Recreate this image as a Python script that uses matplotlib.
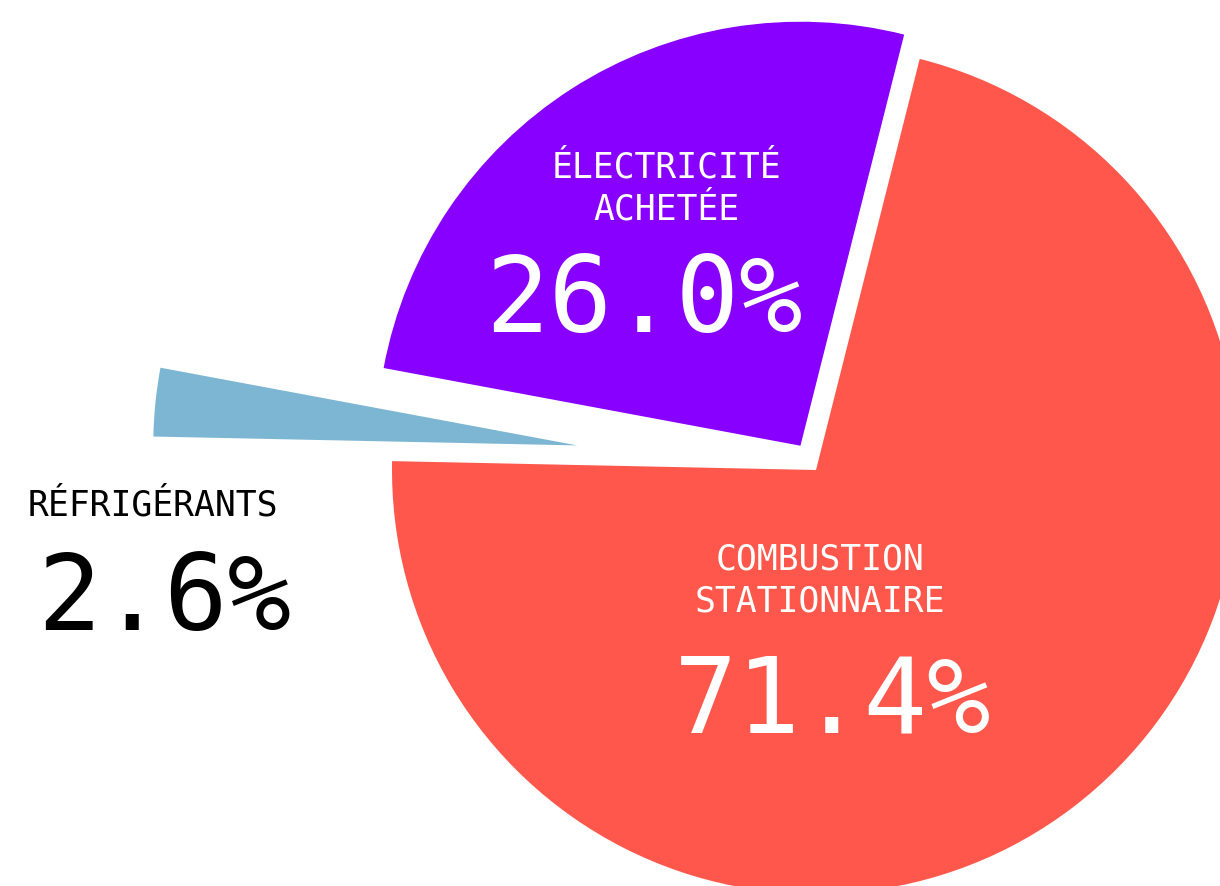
import matplotlib.pyplot as plt

# slice data, in drawing order (counter-clockwise from startangle)
categories = ["COMBUSTION\nSTATIONNAIRE", "ÉLECTRICITÉ\nACHETÉE", "RÉFRIGÉRANTS"]
shares = [71.4, 26.0, 2.6]
pct_labels = ["71.4%", "26.0%", "2.6%"]
colors = ["#FF574B", "#8800FF", "#7DB6D3"]
explode_frac = [0, 0.068, 0.566]   # fraction of the radius

W, H = 1220, 887

fig = plt.figure(figsize=(W / 100, H / 100), dpi=100)
ax = fig.add_axes([0, 0, 1, 1])

# pie laid out in pixel units (y measured upward)
cx, cy, r = 816, H - 471, 424
# matplotlib's explode is in data units, not scaled by radius
explode = [e * r for e in explode_frac]
ax.pie(shares, colors=colors, explode=explode, startangle=178.8,
       center=(cx, cy), radius=r, frame=True,
       wedgeprops={"linewidth": 0})
ax.set_xlim(0, W)
ax.set_ylim(0, H)
ax.axis("off")

mono = "DejaVu Sans Mono"

def label(x, y, s, size, color):
    ax.text(x, H - y, s, ha="center", va="baseline", fontsize=size,
            color=color, family=mono)

# category names (one text per line, at its baseline)
label(666, 178, categories[1].split("\n")[0], 25, "white")
label(666, 220, categories[1].split("\n")[1], 25, "white")
label(820, 570, categories[0].split("\n")[0], 25, "white")
label(820, 612, categories[0].split("\n")[1], 25, "white")
label(153, 515, categories[2], 25, "black")

# percentages
label(644, 332, pct_labels[1], 76, "white")
label(833, 733, pct_labels[0], 76, "white")
label(164, 630, pct_labels[2], 76, "black")

fig.savefig("out.png", dpi=100)
